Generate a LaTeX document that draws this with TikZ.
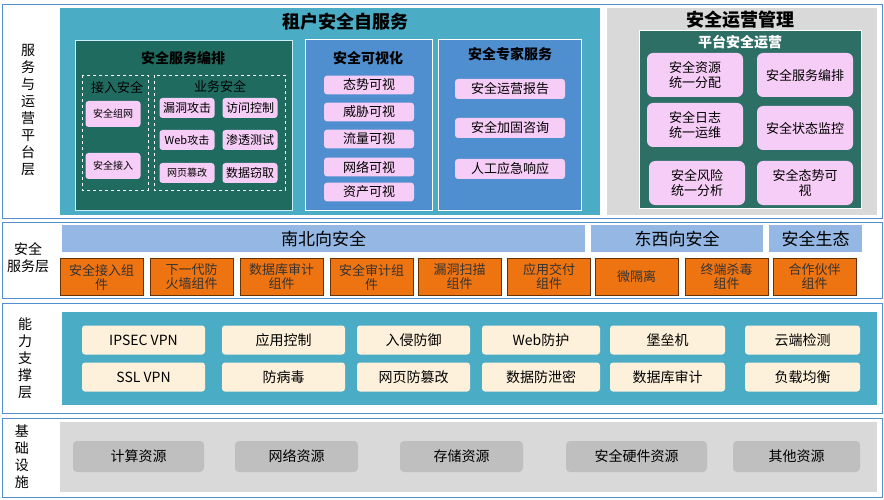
\documentclass[tikz,border=0pt]{standalone}
\usepackage{fontspec}
\setmainfont{Noto Sans CJK SC}
\definecolor{tealp}{HTML}{4BACC6}
\definecolor{dgreen}{HTML}{1F6B60}
\definecolor{pk}{HTML}{F6CDF6}
\definecolor{hb}{HTML}{95B7E3}
\definecolor{og}{HTML}{EE7311}
\definecolor{bl}{HTML}{4F8FCF}
\begin{document}
\begin{tikzpicture}[x=1pt,y=-1pt,
  rowbox/.style={draw=bl,line width=1pt},
  pink/.style={fill=pk,draw=none,rounded corners=3pt,font=\fontsize{12}{13}\selectfont,align=center},
  orange/.style={fill=og,draw=orange!40!black,align=center,font=\fontsize{13}{14}\selectfont,text=black!80},
  cream/.style={fill=yellow!15!orange!12,rounded corners=3pt,font=\fontsize{14}{15}\selectfont},
  grayb/.style={fill=black!25,rounded corners=4pt,font=\fontsize{14}{15}\selectfont},
  hdr/.style={fill=hb,font=\fontsize{17}{18}\selectfont},
  lab/.style={font=\fontsize{14}{17}\selectfont,align=center}]
\useasboundingbox (0,0) rectangle (884,500);
\fill[white] (0,0) rectangle (884,500);
% Row 1
\draw[rowbox] (2,5) rectangle (882,218);
\node[lab] (l1) at (28,110) {服\\务\\与\\运\\营\\平\\台\\层};
\fill[tealp] (60,8) rectangle (600,215);
\node[font=\bfseries\fontsize{18}{19}\selectfont] (t1) at (345,22) {租户安全自服务};
\fill[dgreen,draw=white!80!cyan] (75,40) rectangle (292,210);
\node[font=\bfseries\fontsize{14}{15}\selectfont,text=black] (t2) at (183,58) {安全服务编排};
\draw[white,dashed] (82,75) rectangle (148,190);
\draw[white,dashed] (154,75) rectangle (285,190);
\node[font=\fontsize{13}{14}\selectfont,text=black] (ja) at (117,88) {接入安全};
\node[font=\fontsize{13}{14}\selectfont,text=black] (ya) at (220,86) {业务安全};
\node[pink,minimum width=55,minimum height=26,font=\fontsize{10}{11}\selectfont] (a1) at (113,114) {安全组网};
\node[pink,minimum width=55,minimum height=26,font=\fontsize{10}{11}\selectfont] (a2) at (113,166) {安全接入};
\node[pink,minimum width=55,minimum height=20] (b1) at (187,108) {漏洞攻击};
\node[pink,minimum width=55,minimum height=20] (b2) at (250,108) {访问控制};
\node[pink,minimum width=55,minimum height=20,font=\fontsize{11}{12}\selectfont] (b3) at (187,140) {Web攻击};
\node[pink,minimum width=55,minimum height=20] (b4) at (250,140) {渗透测试};
\node[pink,minimum width=55,minimum height=20,font=\fontsize{10}{11}\selectfont] (b5) at (187,173) {网页篡改};
\node[pink,minimum width=55,minimum height=20] (b6) at (250,173) {数据窃取};
\fill[bl,draw=white,line width=1pt] (305,40) rectangle (432,210);
\node[font=\bfseries\fontsize{14}{15}\selectfont] (t3) at (368,58) {安全可视化};
\foreach \t/\y [count=\i] in {态势可视/85,威胁可视/112,流量可视/139,网络可视/167,资产可视/192}
  \node[pink,minimum width=90,minimum height=17,font=\fontsize{13}{14}\selectfont] (v\i) at (369,\y) {\t};
\fill[bl,draw=white,line width=1pt] (438,40) rectangle (581,210);
\node[font=\bfseries\fontsize{14}{15}\selectfont] (t4) at (510,54) {安全专家服务};
\foreach \t/\y [count=\i] in {安全运营报告/89,安全加固咨询/128,人工应急响应/169}
  \node[pink,minimum width=110,minimum height=20,font=\fontsize{13}{14}\selectfont] (e\i) at (510,\y) {\t};
\fill[black!15] (607,8) rectangle (877,215);
\node[font=\bfseries\fontsize{18}{19}\selectfont] (t5) at (740,20) {安全运营管理};
\fill[dgreen!85!gray,draw=white] (639,30) rectangle (861,208);
\node[font=\bfseries\fontsize{14}{15}\selectfont,text=white] (t6) at (740,42) {平台安全运营};
\foreach \t/\x/\y [count=\i] in {{安全资源\\统一分配}/695/75,安全服务编排/805/75,{安全日志\\统一运维}/695/125,安全状态监控/805/128,{安全风险\\统一分析}/697/183,{安全态势可\\视}/805/183}
  \node[pink,minimum width=96,minimum height=44,rounded corners=6pt,font=\fontsize{13}{15}\selectfont] (p\i) at (\x,\y) {\t};
% Row 2
\draw[rowbox] (2,222) rectangle (882,298);
\node[lab] (l2) at (28,258) {安全\\服务层};
\node[hdr,minimum width=523,minimum height=27] (h1) at (323.5,238.5) {南北向安全};
\node[hdr,minimum width=172,minimum height=27] (h2) at (677,238.5) {东西向安全};
\node[hdr,minimum width=93,minimum height=27] (h3) at (815.5,238.5) {安全生态};
\foreach \t/\x [count=\i] in {{安全接入组\\件}/101.5,{下一代防\\火墙组件}/191.5,{数据库审计\\组件}/281.5,{安全审计组\\件}/371.5,{漏洞扫描\\组件}/459.5,{应用交付\\组件}/549,微隔离/636.5,{终端杀毒\\组件}/726.5,{合作伙伴\\组件}/814.5}
  \node[orange,minimum width=83,minimum height=37] (o\i) at (\x,277) {\t};
% Row 3
\draw[rowbox] (2,303) rectangle (882,413);
\node[lab] (l3) at (25,358) {能\\力\\支\\撑\\层};
\fill[tealp] (62,312) rectangle (877,405);
\foreach \t/\x/\w [count=\i] in {IPSEC VPN/143.5/123,应用控制/283.5/123,入侵防御/413.5/113,Web防护/541/118,堡垒机/667.5/115,云端检测/802.5/115}
  \node[cream,minimum width=\w,minimum height=29] (c\i) at (\x,340) {\t};
\foreach \t/\x/\w [count=\i] in {SSL VPN/143.5/123,防病毒/283.5/123,网页防篡改/413.5/113,数据防泄密/541/118,数据库审计/667.5/115,负载均衡/802.5/115}
  \node[cream,minimum width=\w,minimum height=29] (d\i) at (\x,377) {\t};
% Row 4
\draw[rowbox] (2,418) rectangle (882,497);
\node[lab] (l4) at (22,457) {基\\础\\设\\施};
\fill[black!15] (60,422) rectangle (877,492);
\foreach \t/\x/\w [count=\i] in {计算资源/138.5/131,网络资源/296.5/123,存储资源/461.5/123,安全硬件资源/636.5/141,其他资源/796.5/127}
  \node[grayb,minimum width=\w,minimum height=31] (g\i) at (\x,456.5) {\t};
\end{tikzpicture}
\end{document}
